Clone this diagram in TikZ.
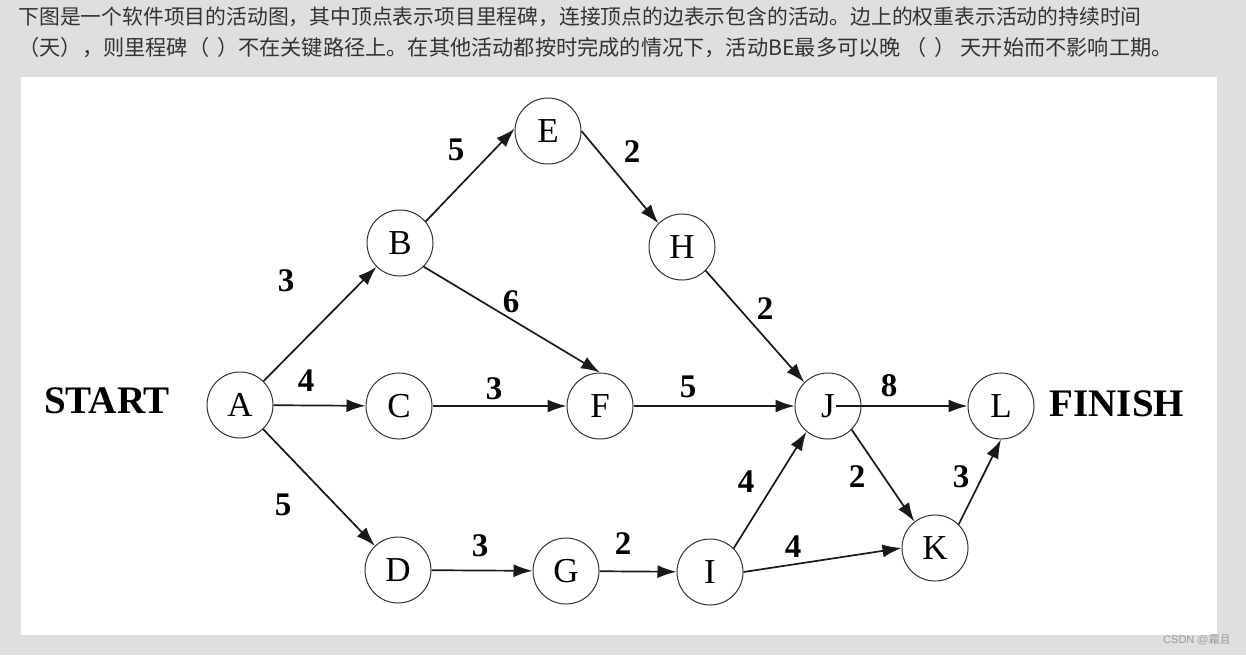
\documentclass[tikz,border=0pt]{standalone}
\usepackage{fontspec}
\setmainfont{Liberation Serif}
\newfontfamily\cjk{Noto Sans CJK SC}
\newfontfamily\wsans{Liberation Sans}
\usetikzlibrary{arrows.meta}
\definecolor{bggray}{HTML}{DFDFDF}
\definecolor{txtgray}{HTML}{333333}
\definecolor{wmgray}{HTML}{9A9A9A}
\begin{document}
\begin{tikzpicture}[x=0.5pt,y=-0.5pt,
  vtx/.style={circle,draw=black!80,line width=0.5pt,fill=white,minimum size=33pt,inner sep=0pt,font=\fontsize{17.5}{17.5}\selectfont},
  edge/.style={-{Latex[length=9.5pt,width=6.5pt]},line width=0.85pt,black!90},
  wt/.style={font=\fontsize{16.5}{16.5}\selectfont\bfseries},
  side/.style={font=\fontsize{19.5}{19.5}\selectfont\bfseries},
  qtext/.style={anchor=west,inner sep=0pt,text=txtgray}]
\fill[bggray] (0,0) rectangle (1246,655);
\useasboundingbox (0,0) rectangle (1246,655);
\fill[white] (21,77) rectangle (1217,635);
\node[qtext,font=\cjk\fontsize{10.4}{10.4}\selectfont] (q1) at (18,17) {下图是一个软件项目的活动图，其中顶点表示项目里程碑，连接顶点的边表示包含的活动。边上的权重表示活动的持续时间};
\node[qtext,font=\cjk\fontsize{10.6}{10.6}\selectfont] (q2) at (18,48) {（天），则里程碑（\hspace{4pt}）不在关键路径上。在其他活动都按时完成的情况下，活动BE最多可以晚 （\hspace{4pt}） 天开始而不影响工期。};
\node[anchor=east,inner sep=0pt,text=wmgray,font=\wsans\fontsize{5.5}{5.5}\selectfont] (wm) at (1231,640) {CSDN @{\cjk 霜且}};

\node[vtx] (A) at (240,405) {A};
\node[vtx] (B) at (400,243) {B};
\node[vtx] (C) at (399,406) {C};
\node[vtx] (D) at (398,570) {D};
\node[vtx] (E) at (548,131) {E};
\node[vtx] (F) at (600,406) {F};
\node[vtx] (G) at (566,571) {G};
\node[vtx] (H) at (682,247) {H};
\node[vtx] (I) at (710,572) {I};
\node[vtx] (J) at (828,406) {J};
\node[vtx] (K) at (935,548) {K};
\node[vtx] (L) at (1001,406) {L};

\node[side] (start) at (107,401) {START};
\node[side] (finish) at (1117,404) {FINISH};

\draw[edge] (A) -- (B);
\draw[edge] (A) -- (C);
\draw[edge] (A) -- (D);
\draw[edge] (B.40) -- (E.176);
\draw[edge] (B.-45) -- (F.north);
\draw[edge] (C) -- (F);
\draw[edge] (E.east) -- (H.135);
\draw[edge] (H.-45) -- (J.135);
\draw[edge] (F) -- (J);
\draw[edge] (D) -- (G);
\draw[edge] (G) -- (I);
\draw[edge] (I.45) -- (J.230);
\draw[edge] (I.east) -- (K.west);
\draw[edge] ([xshift=4pt]J.center) -- (L);
\draw[edge] (J.-45) -- (K.128);
\draw[edge] (K.45) -- (L.south);

\node[wt] (wAB) at (286,281) {3};
\node[wt] (wAC) at (306,381) {4};
\node[wt] (wAD) at (283,505) {5};
\node[wt] (wBE) at (456,150) {5};
\node[wt] (wBF) at (511,302) {6};
\node[wt] (wCF) at (494,389) {3};
\node[wt] (wEH) at (632,152) {2};
\node[wt] (wHJ) at (765,309) {2};
\node[wt] (wFJ) at (688,387) {5};
\node[wt] (wJL) at (889,386) {8};
\node[wt] (wJK) at (857,477) {2};
\node[wt] (wKL) at (961,477) {3};
\node[wt] (wDG) at (480,546) {3};
\node[wt] (wGI) at (623,544) {2};
\node[wt] (wIJ) at (746,482) {4};
\node[wt] (wIK) at (793,547) {4};
\end{tikzpicture}
\end{document}
